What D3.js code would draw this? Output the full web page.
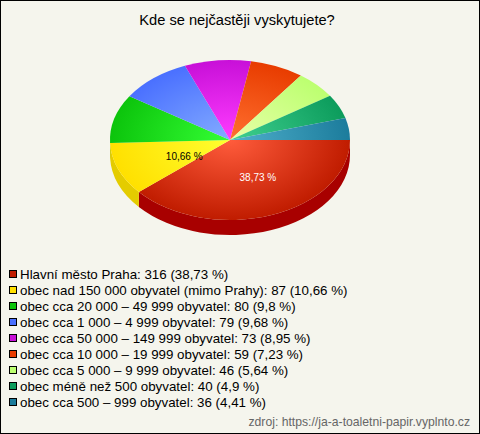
<!DOCTYPE html>
<html><head><meta charset="utf-8">
<script src="https://cdn.jsdelivr.net/npm/d3@7"></script>
<style>html,body{margin:0;padding:0;background:#f5f5ed}svg{display:block}text{font-family:"Liberation Sans",Arial,sans-serif}</style>
</head><body><script>
const title = "Kde se nejčastěji vyskytujete?";
const source = "zdroj: https://ja-a-toaletni-papir.vyplnto.cz";
const categories = ["Hlavní město Praha","obec nad 150 000 obyvatel (mimo Prahy)","obec cca 20 000 – 49 999 obyvatel","obec cca 1 000 – 4 999 obyvatel","obec cca 50 000 – 149 999 obyvatel","obec cca 10 000 – 19 999 obyvatel","obec cca 5 000 – 9 999 obyvatel","obec méně než 500 obyvatel","obec cca 500 – 999 obyvatel"];
const values = [316,87,80,79,73,59,46,40,36];
const percents = ["38,73","10,66","9,8","9,68","8,95","7,23","5,64","4,9","4,41"];
const edgeColors = ["#c01c00","#ffe000","#0cc40c","#4a70ff","#c810d8","#e83c00","#bcff70","#0c9c5c","#1c7c9c"];
const centerColors = ["#ff5c3c","#ffff30","#34ff34","#84acff","#ff3cff","#ff7030","#e8ffa8","#40d090","#50b0cc"];
const sideColors = ["#a80000","#e4cc00","#0a9a0a","#3a58c8","#a00cac","#b83000","#94c858","#0a7a48","#166280"];
const legendShown = [0,1,2,3,4,5,6,7,8];
const labelled = [0,1];

const W=480,H=434,cx=230,cy=140,rx=120,ry=80,depth=15;
const svg=d3.select("body").append("svg").attr("width",W).attr("height",H);
svg.append("rect").attr("width",W).attr("height",H).attr("fill","#f5f5ed");
const defs=svg.append("defs");
const pie=d3.pie().sort(null).startAngle(Math.PI/2).endAngle(Math.PI*2.5)(values);
const px=a=>rx*Math.sin(a), py=a=>-ry*Math.cos(a);
const g=svg.append("g").attr("transform",`translate(${cx},${cy})`);

pie.forEach((d,i)=>{
  const a0=Math.max(d.startAngle,Math.PI/2), a1=Math.min(d.endAngle,Math.PI*1.5);
  if(a1<=a0) return;
  const p=`M${px(a0)},${py(a0)}A${rx},${ry} 0 0 1 ${px(a1)},${py(a1)}L${px(a1)},${py(a1)+depth}A${rx},${ry} 0 0 0 ${px(a0)},${py(a0)+depth}Z`;
  g.append("path").attr("d",p).attr("fill",sideColors[i]);
});
const arc=d3.arc().innerRadius(0).outerRadius(rx);
pie.forEach((d,i)=>{
  const id="grad"+i;
  const gr=defs.append("radialGradient").attr("id",id).attr("gradientUnits","userSpaceOnUse").attr("cx",0).attr("cy",0).attr("r",rx);
  gr.append("stop").attr("offset",0).attr("stop-color",centerColors[i]);
  gr.append("stop").attr("offset",1).attr("stop-color",edgeColors[i]);
  g.append("path").attr("d",arc(d)).attr("transform",`scale(1,${ry/rx})`).attr("fill",`url(#${id})`);
});
// label placement factors along the ellipse radius
const labelFx=[0.67,0.41], labelFy=[0.5,0.58];
labelled.forEach((i,k)=>{
  const m=(pie[i].startAngle+pie[i].endAngle)/2;
  g.append("text").attr("x",labelFx[k]*px(m)).attr("y",labelFy[k]*py(m)).attr("dy","0.35em").attr("text-anchor","middle")
   .attr("font-size",10).attr("fill",i===0?"#fff":"#000").text(percents[i]+" %");
});
svg.append("text").attr("x",237).attr("y",25).attr("text-anchor","middle").attr("font-size","11pt").attr("fill","#000").text(title);
const ly=d3.scalePoint().domain(legendShown).range([274,402]);
legendShown.forEach(i=>{
  svg.append("rect").attr("x",9.5).attr("y",ly(i)-3.5).attr("width",7).attr("height",7).attr("fill",edgeColors[i]).attr("stroke","#000");
  svg.append("text").attr("x",20).attr("y",ly(i)+5).attr("font-size","10pt").attr("fill","#000")
    .text(`${categories[i]}: ${values[i]} (${percents[i]} %)`);
});
svg.append("text").attr("x",470).attr("y",426).attr("text-anchor","end").attr("font-size",12.2).attr("fill","#666").text(source);
svg.append("rect").attr("x",0.5).attr("y",0.5).attr("width",W-1).attr("height",H-1).attr("fill","none").attr("stroke","#000");
</script></body></html>
